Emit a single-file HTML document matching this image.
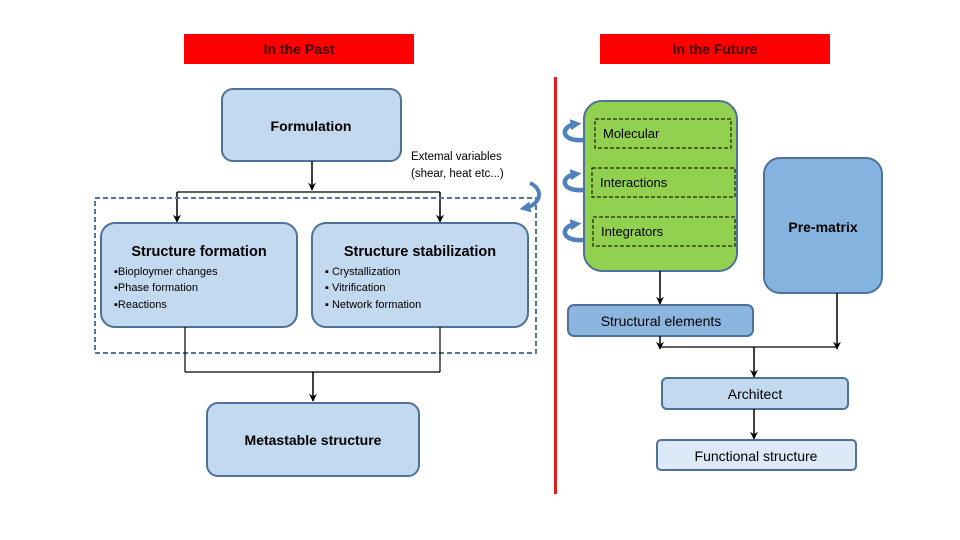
<!DOCTYPE html>
<html><head><meta charset="utf-8"><style>
html,body{margin:0;padding:0;background:#fff;}
svg{display:block;}
text{font-family:"Liberation Sans",sans-serif;fill:#000;}
.b{font-weight:bold;}
</style></head><body>
<svg width="960" height="540" viewBox="0 0 960 540" xmlns="http://www.w3.org/2000/svg">
<defs>
<marker id="ah" markerWidth="8" markerHeight="8" refX="4" refY="6" orient="auto" markerUnits="userSpaceOnUse">
<path d="M0,0 L4,8 L8,0 L4,3 Z" fill="#000" transform="rotate(-90 4 4)"/>
</marker>
<marker id="a" viewBox="0 0 10 10" refX="9" refY="5" markerWidth="8" markerHeight="8" orient="auto" markerUnits="userSpaceOnUse"><path d="M0,0 L10,5 L0,10 L3,5 Z" fill="#000"/></marker>
<marker id="ba" viewBox="0 0 10 10" refX="5" refY="5" markerWidth="11" markerHeight="11" orient="auto" markerUnits="userSpaceOnUse"><path d="M0,0 L10,5 L0,10 Z" fill="#4f81bd"/></marker>
</defs>
<!-- headers -->
<rect x="184" y="34" width="230" height="30" fill="#ff0000"/>
<text x="299" y="54" text-anchor="middle" class="b" font-size="14" style="fill:#3a0000">In the Past</text>
<rect x="600" y="34" width="230" height="30" fill="#ff0000"/>
<text x="715" y="54" text-anchor="middle" class="b" font-size="14" style="fill:#3a0000">In the Future</text>
<rect x="554" y="77" width="3" height="417" fill="#e31b1b"/>

<!-- left side -->
<rect x="222" y="89" width="179" height="72" rx="11" fill="#c3d9ef" stroke="#4f7199" stroke-width="2"/>
<text x="311" y="131" text-anchor="middle" class="b" font-size="14">Formulation</text>
<text x="411" y="160" font-size="11.5">Extemal variables</text>
<text x="411" y="177" font-size="11.5">(shear, heat etc...)</text>

<line x1="312" y1="161" x2="312" y2="190" stroke="#000" stroke-width="1.5" marker-end="url(#a)"/>
<line x1="177" y1="192" x2="440" y2="192" stroke="#000" stroke-width="1.3"/>
<line x1="177" y1="192" x2="177" y2="222" stroke="#000" stroke-width="1.5" marker-end="url(#a)"/>
<line x1="440" y1="192" x2="440" y2="222" stroke="#000" stroke-width="1.5" marker-end="url(#a)"/>

<rect x="95" y="198" width="441" height="155" fill="none" stroke="#56759a" stroke-width="2" stroke-dasharray="5,3"/>

<rect x="101" y="223" width="196" height="104" rx="14" fill="#c3d9ef" stroke="#4f7199" stroke-width="2"/>
<text x="199" y="256" text-anchor="middle" class="b" font-size="14.5">Structure formation</text>
<text x="114" y="275" font-size="11">▪Bioploymer changes</text>
<text x="114" y="291" font-size="11">▪Phase formation</text>
<text x="114" y="308" font-size="11">▪Reactions</text>

<rect x="312" y="223" width="216" height="104" rx="14" fill="#c3d9ef" stroke="#4f7199" stroke-width="2"/>
<text x="420" y="256" text-anchor="middle" class="b" font-size="14.5">Structure stabilization</text>
<text x="325" y="275" font-size="11">▪ Crystallization</text>
<text x="325" y="291" font-size="11">▪ Vitrification</text>
<text x="325" y="308" font-size="11">▪ Network formation</text>

<line x1="185" y1="327" x2="185" y2="372" stroke="#000" stroke-width="1.2"/>
<line x1="440" y1="327" x2="440" y2="372" stroke="#000" stroke-width="1.2"/>
<line x1="185" y1="372" x2="440" y2="372" stroke="#000" stroke-width="1.2"/>
<line x1="313" y1="372" x2="313" y2="401" stroke="#000" stroke-width="1.5" marker-end="url(#a)"/>

<rect x="207" y="403" width="212" height="73" rx="11" fill="#c3d9ef" stroke="#4f7199" stroke-width="2"/>
<text x="313" y="445" text-anchor="middle" class="b" font-size="14">Metastable structure</text>

<!-- curly arrows -->
<path d="M530,183 C545,190 540,205 525,208" fill="none" stroke="#4f81bd" stroke-width="4" marker-end="url(#ba)"/>
<path d="M584,140 C560,142 560,126 576,124" fill="none" stroke="#4f81bd" stroke-width="4.5" marker-end="url(#ba)"/>
<path d="M584,190 C560,192 560,176 576,174" fill="none" stroke="#4f81bd" stroke-width="4.5" marker-end="url(#ba)"/>
<path d="M584,240 C560,242 560,226 576,224" fill="none" stroke="#4f81bd" stroke-width="4.5" marker-end="url(#ba)"/>

<!-- right side -->
<rect x="584" y="101" width="153" height="170" rx="18" fill="#92d050" stroke="#4f7199" stroke-width="2"/>
<rect x="595" y="119" width="136" height="29" fill="none" stroke="#000" stroke-width="1" stroke-dasharray="4,2"/>
<text x="603" y="138" font-size="13">Molecular</text>
<rect x="592" y="168" width="143" height="29" fill="none" stroke="#000" stroke-width="1" stroke-dasharray="4,2"/>
<text x="600" y="187" font-size="13">Interactions</text>
<rect x="593" y="217" width="142" height="29" fill="none" stroke="#000" stroke-width="1" stroke-dasharray="4,2"/>
<text x="601" y="236" font-size="13">Integrators</text>

<rect x="764" y="158" width="118" height="135" rx="16" fill="#85b3e0" stroke="#4f7199" stroke-width="2"/>
<text x="823" y="232" text-anchor="middle" class="b" font-size="14">Pre-matrix</text>

<line x1="660" y1="271" x2="660" y2="304" stroke="#000" stroke-width="1.5" marker-end="url(#a)"/>
<rect x="568" y="305" width="185" height="31" rx="6" fill="#8cb6e0" stroke="#4f7199" stroke-width="2"/>
<text x="661" y="326" text-anchor="middle" font-size="14">Structural elements</text>

<line x1="660" y1="336" x2="660" y2="349" stroke="#000" stroke-width="1.5" marker-end="url(#a)"/>
<line x1="837" y1="293" x2="837" y2="349" stroke="#000" stroke-width="1.5" marker-end="url(#a)"/>
<line x1="660" y1="347" x2="837" y2="347" stroke="#000" stroke-width="1.2"/>
<line x1="754" y1="347" x2="754" y2="377" stroke="#000" stroke-width="1.5" marker-end="url(#a)"/>

<rect x="662" y="378" width="186" height="31" rx="5" fill="#c3d9ef" stroke="#4f7199" stroke-width="2"/>
<text x="755" y="399" text-anchor="middle" font-size="14">Architect</text>
<line x1="754" y1="409" x2="754" y2="439" stroke="#000" stroke-width="1.5" marker-end="url(#a)"/>
<rect x="657" y="440" width="199" height="30" rx="4" fill="#dde9f6" stroke="#4f7199" stroke-width="2"/>
<text x="756" y="461" text-anchor="middle" font-size="14">Functional structure</text>
</svg>
</body></html>
